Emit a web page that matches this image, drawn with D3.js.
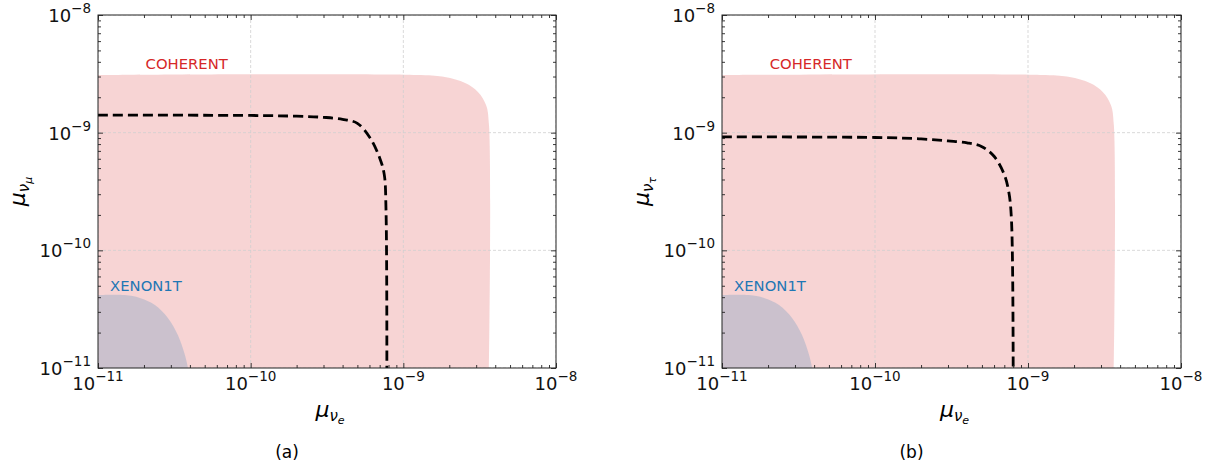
<!DOCTYPE html>
<html>
<head>
<meta charset="utf-8">
<script src="https://cdn.jsdelivr.net/npm/d3@7"></script>
<style>
  body { margin: 0; background: #fff; }
  text { font-family: "DejaVu Sans", sans-serif; }
</style>
</head>
<body>
<svg id="chart" width="1217" height="470"></svg>
<script>
// axis range and decade ticks
var domain = [1e-11, 1e-8];
var majorTicks = [1e-11, 1e-10, 1e-9, 1e-8];
var tickExp = ["\u221211", "\u221210", "\u22129", "\u22128"];

// COHERENT allowed region (same in both panels)
var coherentX = [1e-11, 1.3e-9, 1.87e-9, 2.54e-9, 3.08e-9, 3.48e-9, 3.64e-9, 3.64e-9];
var coherentY = [3.09e-9, 3.09e-9, 2.97e-9, 2.64e-9, 2.22e-9, 1.72e-9, 1.16e-9, 1e-11];

// XENON1T allowed region
var xenonX = [1e-11, 1.5e-11, 1.88e-11, 2.36e-11, 2.87e-11, 3.34e-11, 3.71e-11, 3.89e-11];
var xenonY = [4.17e-11, 4.17e-11, 3.94e-11, 3.43e-11, 2.66e-11, 1.9e-11, 1.29e-11, 1e-11];

// projected dashed contours
var dashAX = [1e-11, 1e-10, 2e-10, 3e-10, 4e-10, 5e-10, 6e-10, 7e-10, 7.5e-10, 7.7e-10, 7.8e-10];
var dashAY = [1.41e-9, 1.40e-9, 1.38e-9, 1.35e-9, 1.30e-9, 1.20e-9, 9.2e-10, 6.1e-10, 4.4e-10, 2.2e-10, 1e-11];
var dashBX = [1e-11, 1e-10, 2e-10, 3e-10, 4e-10, 5e-10, 6e-10, 7e-10, 7.5e-10, 7.8e-10, 8e-10];
var dashBY = [9.2e-10, 9.1e-10, 8.85e-10, 8.5e-10, 8.2e-10, 7.6e-10, 6.3e-10, 4.4e-10, 3.1e-10, 1.8e-10, 1e-11];

var svg = d3.select("#chart");

function zipPts(xs, ys) { return xs.map(function(v, i) { return [v, ys[i]]; }); }

function minorTicks() {
  var t = [];
  for (var e = -11; e < -8; e++) for (var k = 2; k <= 9; k++) t.push(k * Math.pow(10, e));
  return t;
}

function drawPanel(left, right, flav, dashX, dashY, caption) {
  var top = 15, bottom = 368;
  var x = d3.scaleLog().domain(domain).range([left, right]);
  var y = d3.scaleLog().domain(domain).range([bottom, top]);
  var g = svg.append("g");

  var clipId = "clip" + caption;
  g.append("clipPath").attr("id", clipId).append("rect")
    .attr("x", left).attr("y", top).attr("width", right - left).attr("height", bottom - top);
  var plot = g.append("g").attr("clip-path", "url(#" + clipId + ")");

  var area = d3.line().x(function(d) { return x(d[0]); }).y(function(d) { return y(d[1]); })
    .curve(d3.curveCatmullRom.alpha(0.5));

  // filled regions (closed at the lower-left corner)
  var coh = zipPts(coherentX, coherentY);
  plot.append("path").attr("d", area(coh) + "L" + x(1e-11) + "," + y(1e-11) + "Z")
    .attr("fill", "#d62728").attr("fill-opacity", 0.2);
  var xen = zipPts(xenonX, xenonY);
  plot.append("path").attr("d", area(xen) + "L" + x(1e-11) + "," + y(1e-11) + "Z")
    .attr("fill", "#1f77b4").attr("fill-opacity", 0.2);

  // grid
  majorTicks.forEach(function(t) {
    plot.append("line").attr("x1", x(t)).attr("x2", x(t)).attr("y1", top).attr("y2", bottom)
      .attr("stroke", "#cfcfcf").attr("stroke-width", 0.8).attr("stroke-dasharray", "3,2");
    plot.append("line").attr("y1", y(t)).attr("y2", y(t)).attr("x1", left).attr("x2", right)
      .attr("stroke", "#cfcfcf").attr("stroke-width", 0.8).attr("stroke-dasharray", "3,2");
  });

  // dashed contour
  plot.append("path").attr("d", area(zipPts(dashX, dashY)))
    .attr("fill", "none").attr("stroke", "#000").attr("stroke-width", 2.8)
    .attr("stroke-dasharray", "10,5");

  // region labels
  g.append("text").attr("x", x(2.05e-11)).attr("y", y(3.5e-9))
    .attr("fill", "#d62728").attr("font-size", 14.8).text("COHERENT");
  g.append("text").attr("x", x(1.2e-11)).attr("y", y(4.5e-11))
    .attr("fill", "#1f77b4").attr("font-size", 14.8).text("XENON1T");

  // ticks pointing inward on all four sides
  var mk = function(axis, scale, vals, size) {
    return axis(scale).tickValues(vals).tickSizeInner(-size).tickSizeOuter(0).tickFormat("");
  };
  [[d3.axisBottom, x, "translate(0," + bottom + ")"],
   [d3.axisTop, x, "translate(0," + top + ")"],
   [d3.axisLeft, y, "translate(" + left + ",0)"],
   [d3.axisRight, y, "translate(" + right + ",0)"]].forEach(function(a) {
    g.append("g").attr("transform", a[2]).call(mk(a[0], a[1], majorTicks, 5));
    g.append("g").attr("transform", a[2]).call(mk(a[0], a[1], minorTicks(), 3));
  });
  g.selectAll(".domain").remove();
  g.selectAll(".tick line").attr("stroke", "#222").attr("stroke-width", 0.9);

  g.append("rect").attr("x", left).attr("y", top).attr("width", right - left).attr("height", bottom - top)
    .attr("fill", "none").attr("stroke", "#222").attr("stroke-width", 1);

  // tick labels 10^n
  majorTicks.forEach(function(t, i) {
    var tx = g.append("text").attr("x", x(t)).attr("y", bottom + 22).attr("text-anchor", "middle")
      .attr("font-size", 18).attr("fill", "#111");
    tx.append("tspan").text("10");
    tx.append("tspan").attr("dy", -9).attr("font-size", 13.5).text(tickExp[i]);
    var ty = g.append("text").attr("x", left - 7).attr("y", y(t) + 7).attr("text-anchor", "end")
      .attr("font-size", 18).attr("fill", "#111");
    ty.append("tspan").text("10");
    ty.append("tspan").attr("dy", -9).attr("font-size", 13.5).text(tickExp[i]);
  });

  // axis labels
  var xl = g.append("text").attr("x", (left + right) / 2 + 3).attr("y", 417)
    .attr("text-anchor", "middle").attr("font-size", 22).attr("font-style", "oblique");
  xl.append("tspan").text("\u03bc");
  xl.append("tspan").attr("dy", 4).attr("font-size", 15).text("\u03bd");
  xl.append("tspan").attr("dy", 3).attr("font-size", 11).text("e");

  var yl = g.append("text").attr("transform", "translate(" + (left - 73) + "," + ((top + bottom) / 2) + ") rotate(-90)")
    .attr("text-anchor", "middle").attr("font-size", 22).attr("font-style", "oblique");
  yl.append("tspan").text("\u03bc");
  yl.append("tspan").attr("dy", 4).attr("font-size", 15).text("\u03bd");
  yl.append("tspan").attr("dy", 3).attr("font-size", 11).text(flav);

  g.append("text").attr("x", (left + right) / 2 - 40).attr("y", 458).attr("text-anchor", "middle")
    .attr("font-family", "'Liberation Serif', 'DejaVu Serif', serif").attr("font-size", 17)
    .text("(" + caption + ")");
}

drawPanel(98, 556, "\u03bc", dashAX, dashAY, "a");
drawPanel(722, 1181, "\u03c4", dashBX, dashBY, "b");
</script>
</body>
</html>
